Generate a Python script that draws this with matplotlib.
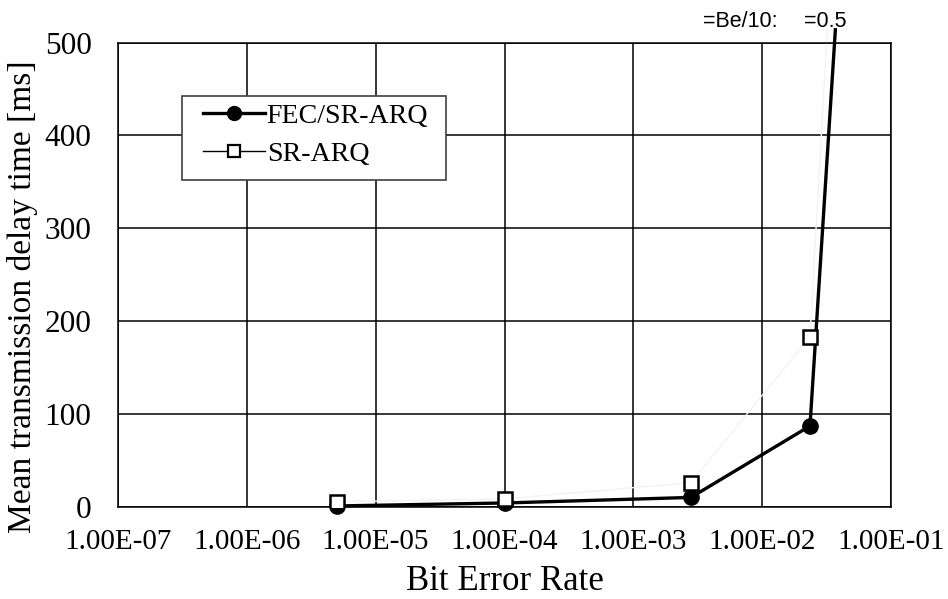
import matplotlib
matplotlib.use("Agg")
import matplotlib.pyplot as plt
from matplotlib.lines import Line2D
from matplotlib.patches import Rectangle
from matplotlib.ticker import FixedLocator, FuncFormatter

# Bit error rate vs. mean transmission delay
ber_fec = [5e-6, 1e-4, 2.8e-3, 2.35e-2, 3.7e-2]
delay_fec = [0.8, 4, 10, 87, 514]

ber_sr = [5e-6, 1e-4, 2.8e-3, 2.35e-2]
delay_sr = [5.4, 8.3, 26, 183]
ber_sr_tail = [2.35e-2, 3.2e-2]
delay_sr_tail = [183, 514]

x_ticks = [1e-7, 1e-6, 1e-5, 1e-4, 1e-3, 1e-2, 1e-1]
y_ticks = [0, 100, 200, 300, 400, 500]
series_names = ["FEC/SR-ARQ", "SR-ARQ"]

serif = ["Liberation Serif", "DejaVu Serif"]
sans = ["Liberation Sans", "DejaVu Sans"]
plt.rcParams["font.family"] = serif

W, H = 948, 599
fig = plt.figure(figsize=(W / 100, H / 100), dpi=100)
left, right, bottom, top = 118, 891, 506.7, 42.7
ax = fig.add_axes([left / W, (H - bottom) / H, (right - left) / W, (bottom - top) / H])

ax.set_xscale("log")
ax.set_xlim(1e-7, 1e-1)
ax.set_ylim(0, 500)
ax.xaxis.set_major_locator(FixedLocator(x_ticks))
ax.xaxis.set_minor_locator(FixedLocator([]))
ax.xaxis.set_major_formatter(FuncFormatter(lambda v, p: f"{v:.2E}"))
ax.set_yticks(y_ticks)

ax.grid(True, which="major", color="black", linewidth=1.1)
ax.set_axisbelow(True)
for s in ax.spines.values():
    s.set_color("black")
    s.set_linewidth(1.1)

ax.tick_params(axis="x", length=0, pad=16, labelsize=21)
ax.tick_params(axis="y", length=0, pad=19, labelsize=22.5)

# SR-ARQ connecting line (very faint)
ax.plot(ber_sr, delay_sr, color="#f3f3f3", linewidth=1.0, zorder=2)
ax.plot(ber_sr_tail, delay_sr_tail, color="#f3f3f3", linewidth=1.0, zorder=2, clip_on=False)

# FEC/SR-ARQ
ax.plot(ber_fec, delay_fec, color="black", linewidth=2.4, marker="o", markersize=11,
        markevery=list(range(len(ber_fec) - 1)), zorder=3, clip_on=False)

# SR-ARQ markers
ax.plot(ber_sr, delay_sr, linestyle="none", marker="s", markersize=9.5,
        markerfacecolor="white", markeredgecolor="black", markeredgewidth=1.8, zorder=4)

ax.set_xlabel("Bit Error Rate", fontsize=25, labelpad=7.5)
ax.set_ylabel("Mean transmission delay time [ms]", fontsize=24.1)
ax.yaxis.set_label_coords(-0.1035, 0.452)

# Legend box
fig.add_artist(Rectangle((182 / W, 1 - 180 / H), (446 - 182) / W, (180 - 96) / H,
                         transform=fig.transFigure, facecolor="white",
                         edgecolor="#404040", linewidth=1.2, zorder=2))
handles = [
    Line2D([], [], color="black", linewidth=2.4, marker="o", markersize=10),
    Line2D([], [], color="black", linewidth=1.0, marker="s", markersize=8,
           markerfacecolor="white", markeredgewidth=1.6),
]
fig.legend(handles, series_names, loc="center left",
           bbox_to_anchor=(203 / W, 1 - 135 / H), bbox_transform=fig.transFigure,
           fontsize=20.2, frameon=False, handlelength=2.2, handletextpad=0.07,
           borderpad=0, labelspacing=0.45, borderaxespad=0)

fig.text(703 / W, 1 - 27 / H, "=Be/10:", fontsize=15.5, family=sans,
         va="baseline", ha="left")
fig.text(804 / W, 1 - 27 / H, "=0.5", fontsize=15.5, family=sans,
         va="baseline", ha="left")

fig.savefig("out.png", dpi=100)
